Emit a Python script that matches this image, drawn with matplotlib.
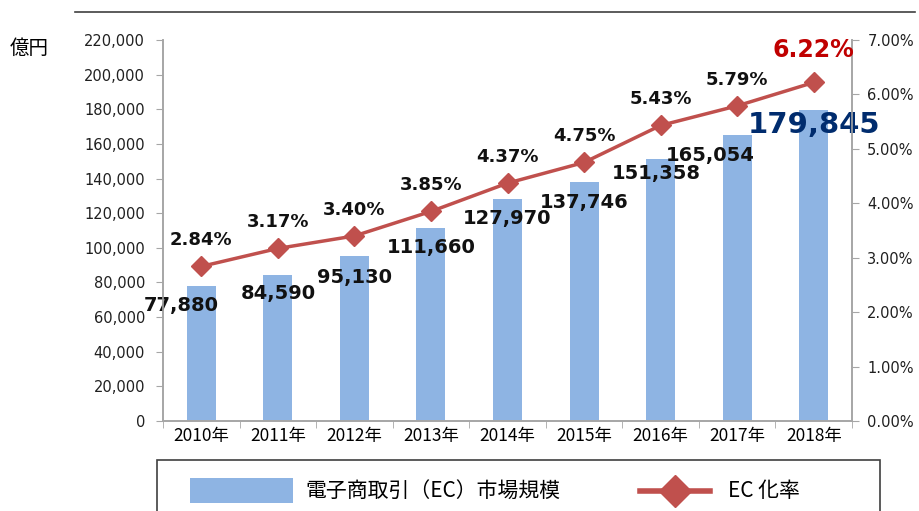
import matplotlib.pyplot as plt
from matplotlib.patches import Rectangle
from matplotlib.lines import Line2D
from matplotlib.ticker import FuncFormatter, FixedLocator

plt.rcParams['font.family'] = ['DejaVu Sans', 'Noto Sans CJK JP']

# data
years = ['2010年', '2011年', '2012年', '2013年', '2014年', '2015年', '2016年', '2017年', '2018年']
market_size = [77880, 84590, 95130, 111660, 127970, 137746, 151358, 165054, 179845]
ec_rate = [2.84, 3.17, 3.40, 3.85, 4.37, 4.75, 5.43, 5.79, 6.22]

# label nudges (pixels) for the bar value labels
label_dx = [-20, 0, 0, 0, 0, 0, -4, -27, 0]
label_dy = [-19, -19, -21, -20, -19, -20, -15, -20, -15]

bar_color = '#8EB4E3'
line_color = '#C0504D'
axis_gray = '#A6A6A6'

fig = plt.figure(figsize=(9.19, 5.11), dpi=100)
ax = fig.add_axes([163 / 919, 1 - 421 / 511, 689 / 919, 381 / 511])
ax2 = ax.twinx()

x = list(range(len(years)))
ax.bar(x, market_size, width=0.38, color=bar_color, zorder=1)
ax.set_xlim(-0.5, len(years) - 0.5)
ax.set_ylim(0, 220000)
ax.set_yticks(range(0, 220001, 20000))
ax.yaxis.set_major_formatter(FuncFormatter(lambda v, p: f'{int(v):,}'))
ax.set_xticks(x)
ax.set_xticklabels(years, family=['Noto Sans CJK JP'], fontsize=12.5)
ax.xaxis.set_minor_locator(FixedLocator([i - 0.5 for i in range(len(years) + 1)]))
ax.tick_params(axis='x', which='major', length=0, pad=4)
ax.tick_params(axis='x', which='minor', length=5, color=axis_gray)
ax.tick_params(axis='y', length=5, color=axis_gray, labelsize=10.5, pad=8,
               labelcolor='#202020')

ax2.plot(x, ec_rate, color=line_color, lw=2.5, marker='D', markersize=10, zorder=3)
ax2.set_ylim(0, 7)
ax2.set_yticks([0, 1, 2, 3, 4, 5, 6, 7])
ax2.yaxis.set_major_formatter(FuncFormatter(lambda v, p: f'{v:.2f}%'))
ax2.tick_params(axis='y', length=5, color=axis_gray, labelsize=10.5, pad=6,
                labelcolor='#202020')

for a in (ax, ax2):
    a.spines['top'].set_visible(False)
    for s in ('left', 'right', 'bottom'):
        a.spines[s].set_color(axis_gray)
        a.spines[s].set_linewidth(1.2)

# bar value labels
for i, v in enumerate(market_size[:-1]):
    ax.annotate(f'{v:,}', (i, v), xytext=(label_dx[i], label_dy[i]), textcoords='offset pixels',
                ha='center', va='center', fontsize=14, fontweight='bold', color='#111111')
ax.annotate(f'{market_size[-1]:,}', (x[-1], market_size[-1]), xytext=(0, label_dy[-1]),
            textcoords='offset pixels', ha='center', va='center', fontsize=21,
            fontweight='bold', color='#002C6E')

# rate labels
for i, r in enumerate(ec_rate[:-1]):
    ax2.annotate(f'{r:.2f}%', (i, r), xytext=(0, 26), textcoords='offset pixels',
                 ha='center', va='center', fontsize=13, fontweight='bold', color='#111111')
ax2.annotate(f'{ec_rate[-1]:.2f}%', (x[-1], ec_rate[-1]), xytext=(0, 32),
             textcoords='offset pixels', ha='center', va='center', fontsize=17,
             fontweight='bold', color='#C00000')

fig.text(10 / 919, 1 - 48 / 511, '億円', family=['Noto Sans CJK JP'], fontsize=14,
         va='center', ha='left')

# top rule
fig.add_artist(Line2D([75 / 919, 915 / 919], [1 - 12 / 511, 1 - 12 / 511],
                      color='#404040', lw=1.2))

# legend box (cut off by the bottom edge)
fig.add_artist(Rectangle((157 / 919, -0.05), 723 / 919, (1 - 460 / 511) + 0.05,
                         fill=False, edgecolor='#404040', lw=1.2))
fig.add_artist(Rectangle((190 / 919, 1 - 503 / 511), 103 / 919, 25 / 511,
                         facecolor=bar_color, edgecolor='none'))
fig.text(305 / 919, 1 - 491 / 511, '電子商取引（EC）市場規模', family=['Noto Sans CJK JP'],
         fontsize=15, va='center', ha='left')
fig.add_artist(Line2D([640 / 919, 710 / 919], [1 - 491 / 511, 1 - 491 / 511],
                      color=line_color, lw=4))
fig.add_artist(Line2D([675 / 919], [1 - 491 / 511], color=line_color, marker='D',
                      markersize=16, lw=0))
fig.text(728 / 919, 1 - 491 / 511, 'EC 化率', family=['Noto Sans CJK JP'],
         fontsize=15, va='center', ha='left')

fig.savefig('out.png', dpi=100)
